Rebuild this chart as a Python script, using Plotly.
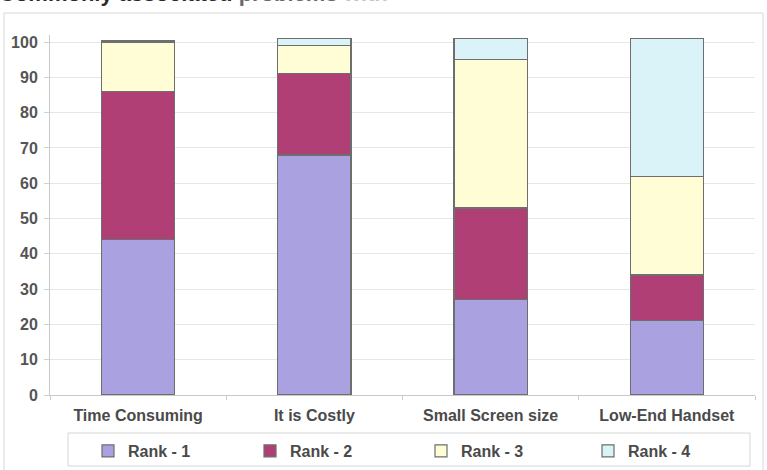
import plotly.graph_objects as go

# Problems and the share of respondents ranking each one 1st..4th (%)
categories = ["Time Consuming", "It is Costly", "Small Screen size", "Low-End Handset"]
rank_names = ["Rank - 1", "Rank - 2", "Rank - 3", "Rank - 4"]
rank1 = [44, 68, 27, 21]
rank2 = [42, 23, 26, 13]
rank3 = [14, 8, 42, 28]
rank4 = [0.5, 2, 6, 39]
y_ticks = [0, 10, 20, 30, 40, 50, 60, 70, 80, 90, 100]

series = [rank1, rank2, rank3, rank4]
fills = ["#aaa2e0", "#b03f75", "#fefdd6", "#d9f3f8"]

W, H = 767, 470
L, R, T, B = 50, 12, 35, 75
pw, ph = W - L - R, H - T - B
Y_MAX = 102
FONT = "Liberation Sans, Arial, sans-serif"

# left edge (px) of each legend entry, laid out in one row
legend_left_px = [88, 250, 421, 588]


def px_x(px):
    return (px - L) / pw


def px_y(py):
    return (H - B - py) / ph


fig = go.Figure()
legend_layouts = {}
for i, (name, vals, col) in enumerate(zip(rank_names, series, fills)):
    key = "legend" if i == 0 else f"legend{i + 1}"
    fig.add_trace(go.Bar(
        x=categories, y=vals, name=name, legend=key,
        marker=dict(color=col, line=dict(color="#6e6e6e", width=1.2)),
    ))
    legend_layouts[key] = dict(
        orientation="h",
        x=px_x(legend_left_px[i]), xanchor="left",
        y=px_y(451), yanchor="middle",
        font=dict(family=FONT, size=16, color="#4a4a4a", weight="bold"),
        bgcolor="rgba(0,0,0,0)",
    )

fig.update_layout(
    width=W, height=H,
    margin=dict(l=L, r=R, t=T, b=B, autoexpand=False),
    barmode="stack",
    bargap=0.585,
    paper_bgcolor="white",
    plot_bgcolor="white",
    font=dict(family=FONT, size=16, color="#4a4a4a"),
    showlegend=True,
    xaxis=dict(
        showline=True, linecolor="#c9c9c9", linewidth=1,
        ticks="outside", tickson="boundaries", ticklen=4, tickcolor="#c9c9c9",
        showgrid=False,
        tickfont=dict(family=FONT, size=16, color="#4a4a4a", weight="bold"),
        ticklabelstandoff=6,
    ),
    yaxis=dict(
        range=[0, Y_MAX],
        tickvals=y_ticks,
        showline=True, linecolor="#c9c9c9", linewidth=1,
        ticks="outside", ticklen=5, tickcolor="#d0d0d0",
        showgrid=True, gridcolor="#e6e6e6", gridwidth=1,
        zeroline=False,
        tickfont=dict(family=FONT, size=16, color="#555555", weight="bold"),
        ticklabelstandoff=3,
    ),
    shapes=[
        # chart frame
        dict(type="rect", xref="paper", yref="paper",
             x0=px_x(4), x1=px_x(763), y0=px_y(480), y1=px_y(13),
             line=dict(color="#d8d8d8", width=1), layer="below"),
        # legend frame
        dict(type="rect", xref="paper", yref="paper",
             x0=px_x(68), x1=px_x(750), y0=px_y(466), y1=px_y(433),
             line=dict(color="#d6d6d6", width=1), layer="below"),
    ],
    annotations=[
        dict(
            xref="paper", yref="paper",
            x=px_x(-3), y=px_y(-6), xanchor="left", yanchor="middle",
            text=("<b><span style='color:#2a2a2a'>Commonly associated </span>"
                  "<span style='color:#6a6a6a'>problems </span>"
                  "<span style='color:#c4c4c4'>with</span></b>"),
            showarrow=False,
            font=dict(family=FONT, size=22),
        )
    ],
    **legend_layouts,
)

fig.write_html("out.html")
